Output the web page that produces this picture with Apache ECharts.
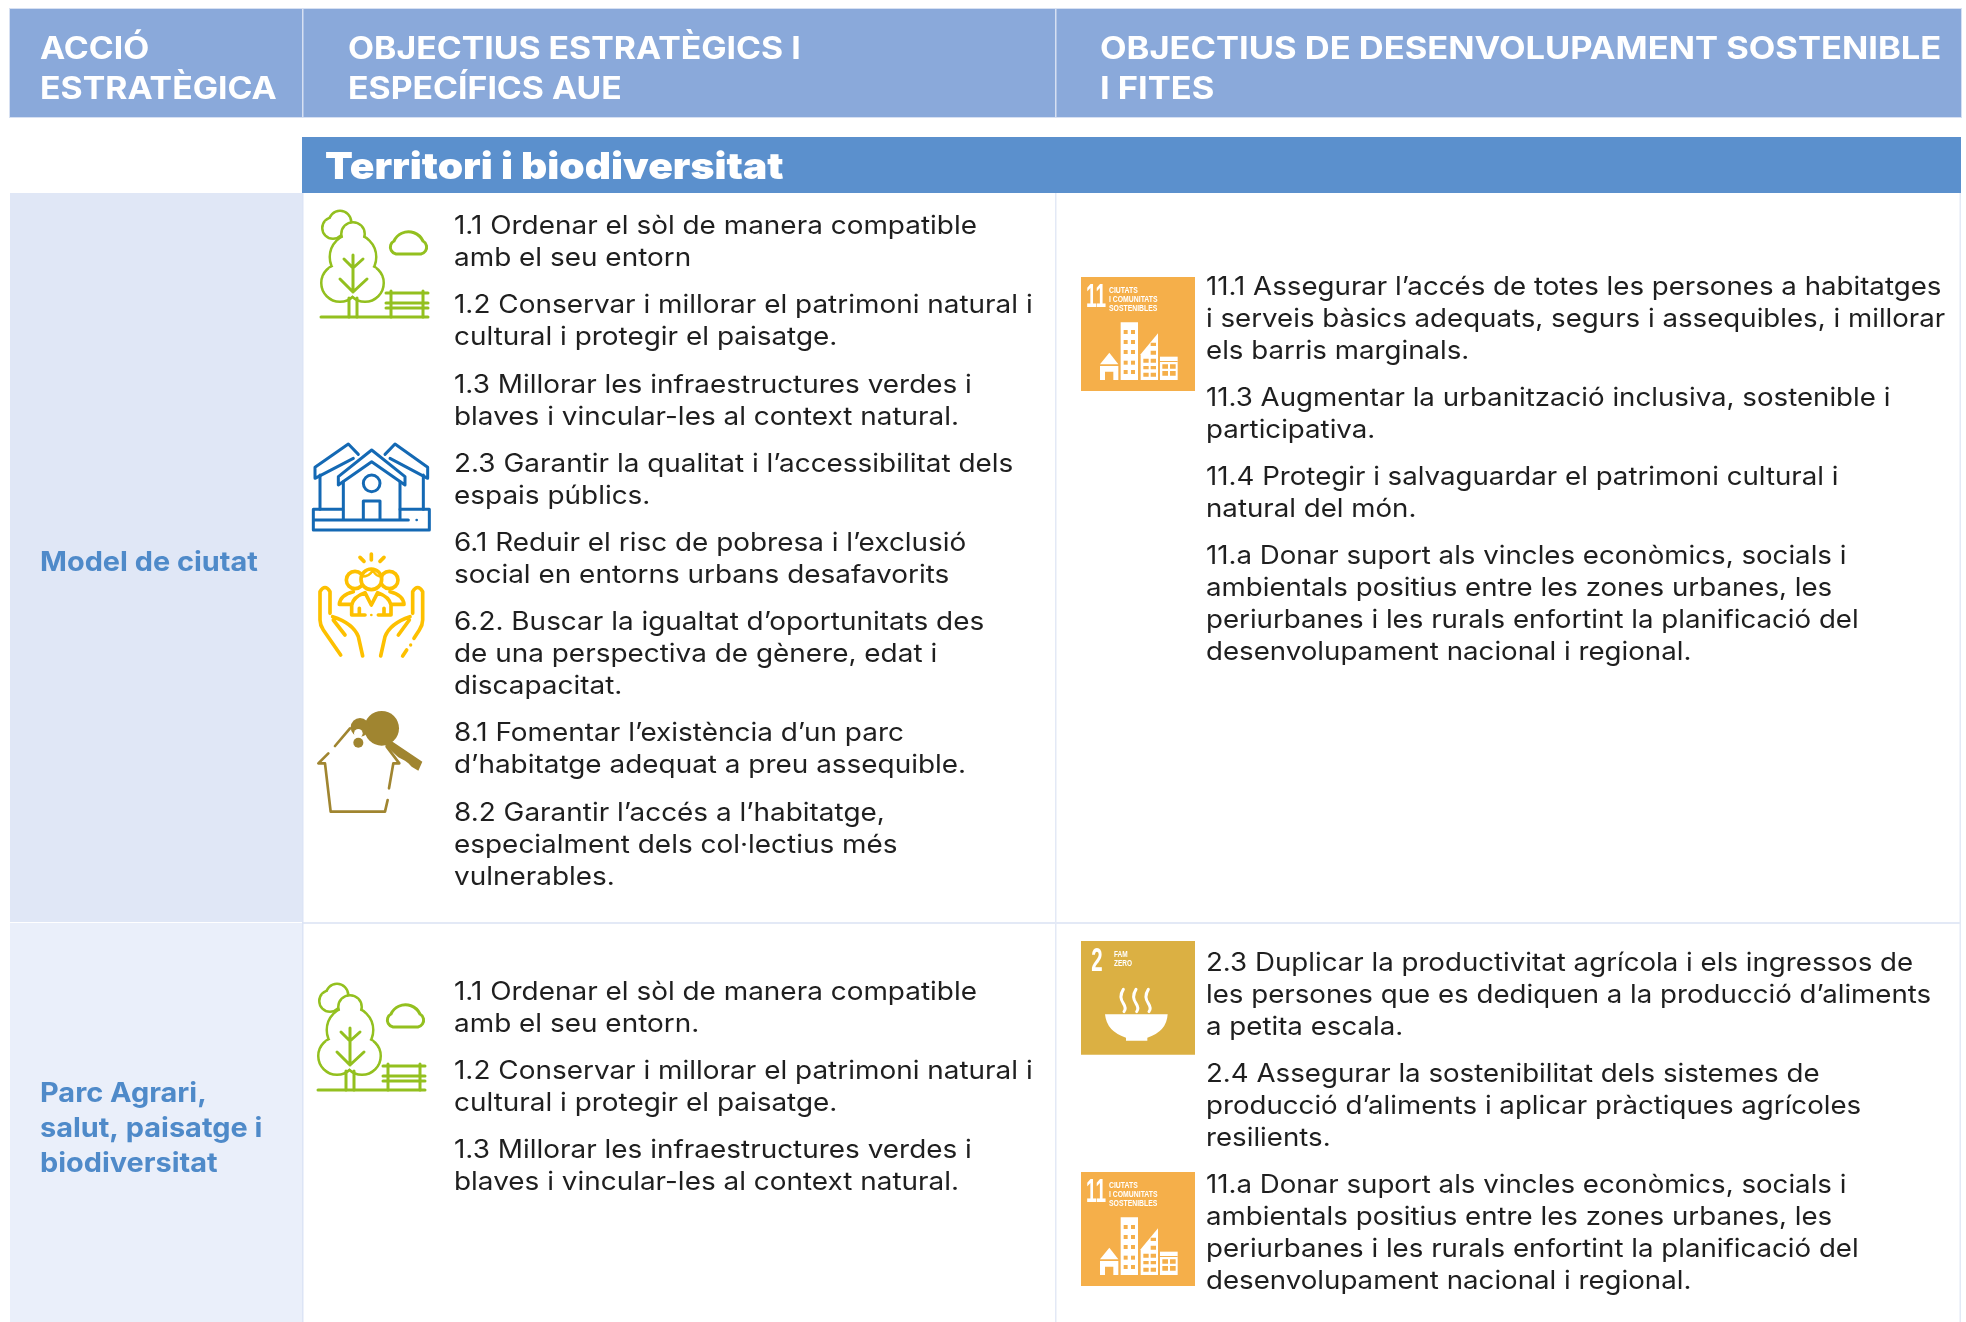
<!DOCTYPE html>
<html>
<head>
<meta charset="utf-8">
<style>
  html, body { margin: 0; padding: 0; background: #fff; }
  #main { width: 1966px; height: 1322px; }
</style>
<script src="https://cdn.jsdelivr.net/npm/echarts@6/dist/echarts.min.js"></script>
</head>
<body>
<div id="main"></div>
<script>
var headerAccio = ['ACCIÓ', 'ESTRATÈGICA'];
var headerAue = ['OBJECTIUS ESTRATÈGICS I', 'ESPECÍFICS AUE'];
var headerOds = ['OBJECTIUS DE DESENVOLUPAMENT SOSTENIBLE', 'I FITES'];
var sectionTitle = 'Territori i biodiversitat';
var actionModel = ['Model de ciutat'];
var actionParc = ['Parc Agrari,', 'salut, paisatge i', 'biodiversitat'];

var aueModel = [
  ['1.1 Ordenar el sòl de manera compatible', 'amb el seu entorn'],
  ['1.2 Conservar i millorar el patrimoni natural i', 'cultural i protegir el paisatge.'],
  ['1.3 Millorar les infraestructures verdes i', 'blaves i vincular-les al context natural.'],
  ['2.3 Garantir la qualitat i l’accessibilitat dels', 'espais públics.'],
  ['6.1 Reduir el risc de pobresa i l’exclusió', 'social en entorns urbans desafavorits'],
  ['6.2. Buscar la igualtat d’oportunitats des', 'de una perspectiva de gènere, edat i', 'discapacitat.'],
  ['8.1 Fomentar l’existència d’un parc', 'd’habitatge adequat a preu assequible.'],
  ['8.2 Garantir l’accés a l’habitatge,', 'especialment dels col·lectius més', 'vulnerables.']
];
var odsModel = [
  ['11.1 Assegurar l’accés de totes les persones a habitatges', 'i serveis bàsics adequats, segurs i assequibles, i millorar', 'els barris marginals.'],
  ['11.3 Augmentar la urbanització inclusiva, sostenible i', 'participativa.'],
  ['11.4 Protegir i salvaguardar el patrimoni cultural i', 'natural del món.'],
  ['11.a Donar suport als vincles econòmics, socials i', 'ambientals positius entre les zones urbanes, les', 'periurbanes i les rurals enfortint la planificació del', 'desenvolupament nacional i regional.']
];
var aueParc = [
  ['1.1 Ordenar el sòl de manera compatible', 'amb el seu entorn.'],
  ['1.2 Conservar i millorar el patrimoni natural i', 'cultural i protegir el paisatge.'],
  ['1.3 Millorar les infraestructures verdes i', 'blaves i vincular-les al context natural.']
];
var odsParc = [
  ['2.3 Duplicar la productivitat agrícola i els ingressos de', 'les persones que es dediquen a la producció d’aliments', 'a petita escala.'],
  ['2.4 Assegurar la sostenibilitat dels sistemes de', 'producció d’aliments i aplicar pràctiques agrícoles', 'resilients.'],
  ['11.a Donar suport als vincles econòmics, socials i', 'ambientals positius entre les zones urbanes, les', 'periurbanes i les rurals enfortint la planificació del', 'desenvolupament nacional i regional.']
];
var sdg11Label = ['CIUTATS', 'I COMUNITATS', 'SOSTENIBLES'];
var sdg2Label = ['FAM', 'ZERO'];

var FONT = 'Inter';
var LINE_H = 32;
var PARA_H = 47.2;

var els = [];
var pathCount = 0;

function rect(x, y, w, h, fill) {
  els.push({ type: 'rect', shape: { x: x, y: y, width: w, height: h }, style: { fill: fill }, silent: true });
}
function txt(s, x, y, size, weight, fill, sx) {
  els.push({
    type: 'text', x: x, y: y, scaleX: sx || 1, silent: true,
    style: { text: s, x: 0, y: 0, fill: fill, fontFamily: FONT, fontSize: size, fontWeight: weight, textVerticalAlign: 'middle', textAlign: 'left' }
  });
}
function flow(blocks, x, y, sx) {
  blocks.forEach(function (b) {
    b.forEach(function (line, i) {
      txt(line, x, y, 25.5, 400, '#1f1f1f', sx);
      if (i < b.length - 1) y += LINE_H;
    });
    y += PARA_H;
  });
}
// graphic has no 'path' type, so each svg path gets registered as a shape
function path(d, color, lw, fill) {
  var name = 'iconPath' + (pathCount++);
  echarts.graphic.registerShape(name, echarts.graphic.extendPath(d, {}));
  return {
    type: name,
    style: { fill: fill || 'none', stroke: lw ? color : 'none', lineWidth: lw || 0, lineCap: 'round', lineJoin: 'round' }
  };
}
function circ(cx, cy, r, stroke, lw, fill) {
  return { type: 'circle', shape: { cx: cx, cy: cy, r: r }, style: { fill: fill || 'none', stroke: stroke || 'none', lineWidth: lw || 0 } };
}
function icon(x, y, s, children) {
  els.push({ type: 'group', x: x, y: y, scaleX: s, scaleY: s, silent: true, children: children });
}
// the little captions on the sdg squares, squeezed because there is no narrow font
function narrow(s, x, y, size, sx) {
  return {
    type: 'text', x: x, y: y, scaleX: sx,
    style: { text: s, x: 0, y: 0, fill: '#fff', fontFamily: 'Liberation Sans', fontWeight: 'bold', fontSize: size, textVerticalAlign: 'middle' }
  };
}

function treeIcon(x, y) {
  var c = '#93C01F', w = 3, ch = [];
  [[19, 12, 11], [12, 18, 10.5]].forEach(function (k) { ch.push(circ(k[0], k[1], k[2], c, w, '#fff')); });
  [[19, 12, 11], [12, 18, 10.5]].forEach(function (k) { ch.push(circ(k[0], k[1], k[2] - 1, null, 0, '#fff')); });
  var front = [[32, 24, 11.5], [32, 47, 23], [19, 73, 18.5], [44, 73, 18.5]];
  front.forEach(function (k) { ch.push(circ(k[0], k[1], k[2], c, w, '#fff')); });
  front.forEach(function (k) { ch.push(circ(k[0], k[1], k[2] - 1, null, 0, '#fff')); });
  ch.push(path('M32,45 V82 M23,49 L32,58 L42,49 M19,69 L32,82 L46,69 M28,88 V107 M36,88 V107', c, w));
  ch.push(path('M0,107 H107', c, 3));
  ch.push(path('M70,81 V107 M102,81 V107 M65,83 H107 M65,93 H107 M65,98 H107', c, w));
  ch.push(path('M75,44 H100 A7,7 0 0 0 102,31 A16,16 0 0 0 73,31 A7,7 0 0 0 75,44 Z', c, w));
  icon(x, y, 1, ch);
}

// the icons below are written in 3x zoomed pixels, the group scales them down
function houseIcon(x, y) {
  var c = '#1469B4', w = 9, ch = [];
  ch.push(path('M205,103 L175,72 L75,142 V175 L190,115', c, w));
  ch.push(path('M285,103 L315,72 L413,142 V175 L300,115', c, w));
  ch.push(path('M90,165 V268 M400,165 V268', c, w));
  ch.push(path('M145,195 V170 L245,90 L345,170 V195 L245,125 Z', c, w));
  ch.push(path('M160,185 V297 M330,185 V297 M220,297 V243 H270 V297', c, w));
  ch.push(circ(245, 190, 25, c, w));
  ch.push(path('M158,268 H70 V330 H418 V268 H330 M70,300 H355', c, w));
  ch.push(circ(380, 300, 4, null, 0, c));
  icon(x, y, 1 / 3, ch);
}

function peopleIcon(x, y) {
  var c = '#FDC000', w = 11, ch = [];
  ch.push(path('M244,402 V420 M210,412 L222,424 M282,412 L270,424', c, w));
  ch.push(circ(195, 480, 26, c, w));
  ch.push(circ(298, 480, 26, c, w));
  ch.push(circ(244, 478, 31, c, w, '#fff'));
  ch.push(path('M214,470 Q240,470 248,450 Q258,470 274,470', c, 7));
  ch.push(path('M190,515 Q150,525 148,553 H185 M300,515 Q340,525 342,553 H305', c, w));
  ch.push(path('M185,585 V555 Q190,530 225,518 L244,555 L263,518 Q298,530 303,555 V585 M185,585 H225 M265,585 H303 M208,585 V565 M282,585 V565', c, w));
  ch.push(circ(244, 585, 4, null, 0, c));
  ch.push(path('M152,705 L100,630 Q90,615 90,600 V515 Q105,490 120,515 V580 M128,590 Q190,610 205,650 L218,708 M130,600 L165,645', c, w));
  ch.push(path('M272,708 L285,650 Q300,610 360,590 M368,580 V515 Q383,490 398,515 V600 Q398,615 388,630 L372,655 M358,600 L325,645 M350,690 L338,708', c, w));
  ch.push(circ(362, 675, 5, null, 0, c));
  icon(x, y, 1 / 3, ch);
}

function keyIcon(x, y) {
  var c = '#A08530', w = 8, ch = [];
  ch.push(path('M180,925 L135,978 M115,1000 L85,1030 H105 L122,1175 H285 L293,1140 M297,1105 L310,1030 H328 L290,980', c, w));
  ch.push(circ(275, 925, 52, null, 0, c));
  ch.push(circ(210, 922, 28, null, 0, c));
  ch.push(circ(205, 940, 13, null, 0, '#fff'));
  ch.push(circ(205, 968, 15, null, 0, c));
  ch.push(path('M300,960 L397,1025 L385,1052 L365,1040 L355,1030 L345,1022 L325,1012 L285,975 Z', c, 0, c));
  icon(x, y, 1 / 3, ch);
}

function sdg11(x, y) {
  var c = '#F5AF4A', ch = [], fill = '#fff';
  ch.push({ type: 'rect', shape: { x: 63, y: 51, width: 342, height: 342 }, style: { fill: c } });
  ch.push(narrow('11', 78, 115, 98, 0.58));
  sdg11Label.forEach(function (l, i) { ch.push(narrow(l, 147, 90 + i * 27.5, 28, 0.735)); });
  // tall block
  ch.push({ type: 'rect', shape: { x: 182, y: 187, width: 52, height: 173 }, style: { fill: fill } });
  [210, 240, 270, 302, 330].forEach(function (wy) {
    ch.push({ type: 'rect', shape: { x: 191, y: wy, width: 12, height: 12 }, style: { fill: c } });
    ch.push({ type: 'rect', shape: { x: 213, y: wy, width: 12, height: 12 }, style: { fill: c } });
  });
  // little house
  ch.push(path('M120,313 L148,278 L175,313 Z', fill, 0, fill));
  ch.push(path('M120,318 H175 V360 H160 V335 H135 V360 H120 Z', fill, 0, fill));
  // slanted block
  ch.push(path('M242,360 V283 L294,220 V360 Z', fill, 0, fill));
  ch.push(path('M272,248 H288 V258 H272 Z M272,272 H288 V284 H272 Z M250,296 H266 V308 H250 Z M272,296 H288 V308 H272 Z M250,318 H266 V328 H250 Z M272,318 H288 V328 H272 Z M250,338 H266 V350 H250 Z M272,338 H288 V350 H272 Z', c, 0, c));
  // low block
  ch.push({ type: 'rect', shape: { x: 300, y: 290, width: 53, height: 70 }, style: { fill: fill } });
  ch.push(path('M300,303 H353 V306 H300 Z M307,313 H324 V326 H307 Z M330,313 H347 V326 H330 Z M307,333 H324 V347 H307 Z M330,333 H347 V347 H330 Z', c, 0, c));
  icon(x, y, 1 / 3, ch);
}

function sdg2(x, y) {
  var c = '#DBB043', ch = [], fill = '#fff';
  ch.push({ type: 'rect', shape: { x: 63, y: 48, width: 342, height: 341 }, style: { fill: c } });
  ch.push(narrow('2', 94, 111, 102, 0.6));
  sdg2Label.forEach(function (l, i) { ch.push(narrow(l, 162, 89 + i * 26, 27, 0.72)); });
  ch.push(path('M190,193 Q176,215 190,235 Q200,250 192,260 M228,193 Q214,215 228,235 Q238,250 230,260 M265,193 Q251,215 265,235 Q275,250 267,260', fill, 9));
  ch.push(path('M135,268 H323 Q320,320 262,338 V347 H198 V338 Q140,320 135,268 Z', fill, 0, fill));
  icon(x, y, 1 / 3, ch);
}

// table backgrounds
var LEFT = 10, COL2 = 302, COL3 = 1055, RIGHT = 1961, ROW_SPLIT = 922, BOTTOM = 1322;
rect(LEFT - 1, 8, RIGHT - LEFT + 2, 110, '#D6E0F2');
rect(LEFT, 9, RIGHT - LEFT, 108, '#8AA9DA');
rect(COL2, 9, 1.5, 108, '#D6E0F2');
rect(COL3, 9, 1.5, 108, '#D6E0F2');
rect(COL2, 137, RIGHT - COL2, 56, '#5B90CD');
rect(LEFT, 193, COL2 - LEFT, ROW_SPLIT - 193, '#E0E7F6');
rect(LEFT, ROW_SPLIT + 1, COL2 - LEFT, BOTTOM - ROW_SPLIT, '#EAEFFA');
rect(COL2, ROW_SPLIT, RIGHT - COL2, 2, '#E3E9F6');
rect(COL2, 193, 1.5, BOTTOM - 193, '#DCE4F5');
rect(COL3, 193, 1.5, BOTTOM - 193, '#E3E9F6');
rect(RIGHT - 1.5, 193, 1.5, BOTTOM - 193, '#E3E9F6');

// header text
headerAccio.forEach(function (s, i) { txt(s, 40, 50 + i * 40, 31, 700, '#fff', 1.09); });
headerAue.forEach(function (s, i) { txt(s, 348, 50 + i * 40, 31, 700, '#fff', 1.09); });
headerOds.forEach(function (s, i) { txt(s, 1100, 50 + i * 40, 31, 700, '#fff', 1.113); });
txt(sectionTitle, 325, 168, 37, 900, '#fff', 1.1);

// left column
actionModel.forEach(function (s) { txt(s, 40, 563, 27, 700, '#4F8AC9', 1.07); });
actionParc.forEach(function (s, i) { txt(s, 40, 1094 + i * 35, 27, 700, '#4F8AC9', 1.07); });

// body
flow(aueModel, 454, 226.5, 1.095);
flow(odsModel, 1206, 287, 1.085);
flow(aueParc, 454, 992, 1.095);
flow(odsParc, 1206, 963, 1.085);

// icons
treeIcon(321, 210);
houseIcon(290, 420);
peopleIcon(290, 420);
keyIcon(290, 420);
treeIcon(318, 983);
sdg11(1060, 260);
sdg2(1060, 925);
sdg11(1060, 1155);

var chart = echarts.init(document.getElementById('main'));
chart.setOption({
  backgroundColor: '#fff',
  animation: false,
  graphic: { elements: els }
});
</script>
</body>
</html>
